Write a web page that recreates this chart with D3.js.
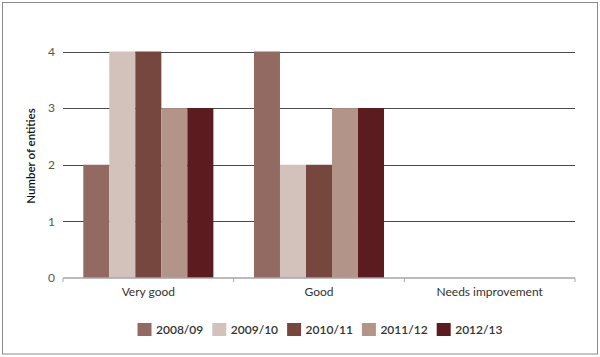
<!DOCTYPE html>
<html>
<head>
<meta charset="utf-8">
<script src="https://cdn.jsdelivr.net/npm/d3@7"></script>
<style>
  html, body { margin: 0; padding: 0; background: #fff; }
  svg { display: block; font-family: Lato, "Open Sans", sans-serif; }
</style>
</head>
<body>
<svg id="chart" width="600" height="357"></svg>
<script>
const categories = ["Very good", "Good", "Needs improvement"];
const seriesNames = ["2008/09", "2009/10", "2010/11", "2011/12", "2012/13"];
const values2008 = [2, 4, 0];
const values2009 = [4, 2, 0];
const values2010 = [4, 2, 0];
const values2011 = [3, 3, 0];
const values2012 = [3, 3, 0];
const seriesColors = ["#936a61", "#d3c1bb", "#76473e", "#b29488", "#5b1b1f"];
const yTicks = [0, 1, 2, 3, 4];

const seriesValues = [values2008, values2009, values2010, values2011, values2012];

const svg = d3.select("#chart");

// outer border
svg.append("rect")
  .attr("x", 2.5).attr("y", 2.5)
  .attr("width", 595).attr("height", 351.5)
  .attr("fill", "none").attr("stroke", "#8a8a8a").attr("stroke-width", 1);

const x0 = d3.scaleBand().domain(categories).range([63, 575]).padding(0);
const groupPad = 20.3;
const x1 = d3.scaleBand().domain(seriesNames)
  .range([groupPad, x0.bandwidth() - groupPad]).padding(0);
const y = d3.scaleLinear().domain([0, 4]).range([278, 51.5]);

// gridlines
svg.append("g").selectAll("line")
  .data(yTicks.filter(d => d > 0))
  .join("line")
  .attr("x1", 63).attr("x2", 575)
  .attr("y1", d => Math.round(y(d)) + 0.5).attr("y2", d => Math.round(y(d)) + 0.5)
  .attr("stroke", "#4a4a4a").attr("stroke-width", 1);

// y tick labels
svg.append("g").selectAll("text")
  .data(yTicks)
  .join("text")
  .attr("x", 55).attr("y", d => y(d))
  .attr("dy", "0.35em")
  .attr("text-anchor", "end")
  .attr("font-size", 12)
  .attr("fill", "#555")
  .text(d => d);

// bars
const groups = svg.append("g").selectAll("g")
  .data(categories)
  .join("g")
  .attr("transform", d => `translate(${x0(d)},0)`);

groups.selectAll("rect")
  .data((c, ci) => seriesNames.map((s, si) => ({ s, si, v: seriesValues[si][ci] })))
  .join("rect")
  .attr("x", d => x1(d.s))
  .attr("width", x1.bandwidth())
  .attr("y", d => y(d.v))
  .attr("height", d => y(0) - y(d.v))
  .attr("fill", d => seriesColors[d.si]);

// x axis baseline and ticks
svg.append("line")
  .attr("x1", 63).attr("x2", 575)
  .attr("y1", y(0)).attr("y2", y(0))
  .attr("stroke", "#a3a6a9").attr("stroke-width", 1.5);
const boundaries = categories.map(c => x0(c)).concat([x0(categories[categories.length - 1]) + x0.bandwidth()]);
svg.append("g").selectAll("line")
  .data(boundaries)
  .join("line")
  .attr("x1", d => d).attr("x2", d => d)
  .attr("y1", y(0)).attr("y2", y(0) + 4)
  .attr("stroke", "#a3a6a9").attr("stroke-width", 1);

// category labels
svg.append("g").selectAll("text")
  .data(categories)
  .join("text")
  .attr("x", d => x0(d) + x0.bandwidth() / 2)
  .attr("y", 292)
  .attr("dy", "0.35em")
  .attr("text-anchor", "middle")
  .attr("font-size", 12)
  .attr("fill", "#333")
  .text(d => d);

// y axis title
svg.append("text")
  .attr("transform", "translate(31,156) rotate(-90)")
  .attr("dy", "0.35em")
  .attr("text-anchor", "middle")
  .attr("font-size", 11.5)
  .attr("font-weight", 600)
  .attr("fill", "#111")
  .text("Number of entities");

// legend
const legend = svg.append("g").selectAll("g")
  .data(seriesNames)
  .join("g")
  .attr("transform", (d, i) => `translate(${137.5 + i * 74.8},323)`);
legend.append("rect")
  .attr("width", 14).attr("height", 13)
  .attr("fill", (d, i) => seriesColors[i]);
legend.append("text")
  .attr("x", 18.5).attr("y", 6.5)
  .attr("dy", "0.35em")
  .attr("font-size", 12)
  .attr("font-weight", 600)
  .attr("fill", "#333")
  .text(d => d);
</script>
</body>
</html>
